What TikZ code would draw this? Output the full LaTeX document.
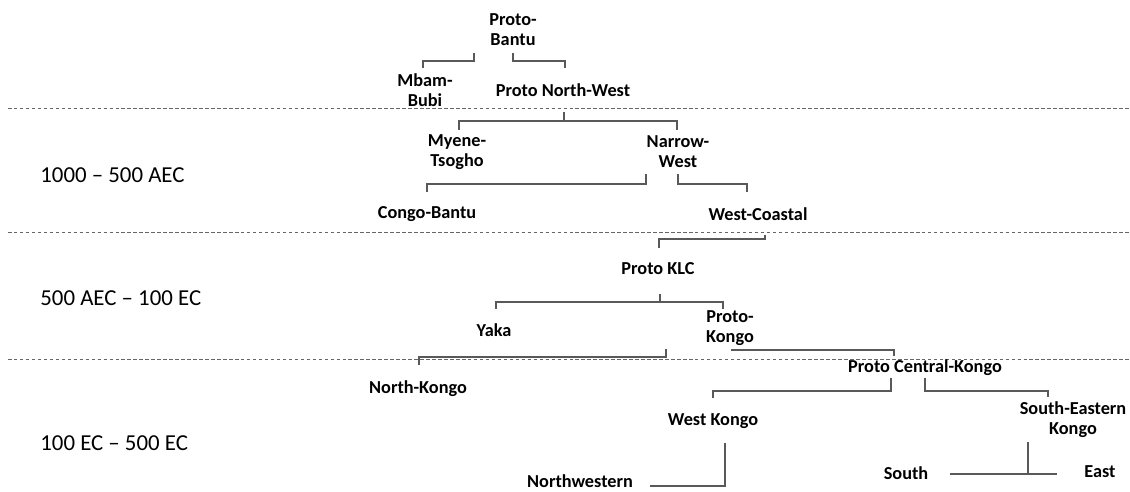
\documentclass[tikz,border=0pt]{standalone}
\usepackage{fontspec}
\setmainfont{Carlito}
\usetikzlibrary{calc}

\begin{document}
\begin{tikzpicture}[
    x=0.02cm, y=-0.02cm,
    lang/.style={font=\fontsize{10.4}{11.5}\selectfont\bfseries, align=center, inner sep=1pt},
    period/.style={font=\fontsize{13}{15}\selectfont, anchor=west, inner sep=0pt},
    link/.style={draw=black!65, line width=0.75pt},
    sep/.style={draw=black!60, line width=0.5pt, dash pattern=on 2pt off 1.4pt}
  ]
  \useasboundingbox (0,0) rectangle (1130,492);

  % time bands
  \draw[sep] (8,108) -- (1130,108);
  \draw[sep] (8,232) -- (1130,232);
  \draw[sep] (8,359) -- (1130,359);
  \node[period] (p1) at (40,175) {1000 – 500 AEC};
  \node[period] (p2) at (40,298) {500 AEC – 100 EC};
  \node[period] (p3) at (40,443) {100 EC – 500 EC};

  % languages
  \node[lang] (pb) at (513,30) {Proto-\\Bantu};
  \node[lang] (mb) at (425,90) {Mbam-\\Bubi};
  \node[lang] (pnw) at (563,90) {Proto North-West};
  \node[lang] (mt) at (457,152) {Myene-\\Tsogho};
  \node[lang] (nw) at (678,152) {Narrow-\\West};
  \node[lang] (cb) at (427,214) {Congo-Bantu};
  \node[lang] (wc) at (758,214) {West-Coastal};
  \node[lang] (klc) at (658,269) {Proto KLC};
  \node[lang] (yk) at (494,330) {Yaka};
  \node[lang] (pk) at (730,328) {Proto-\\Kongo};
  \node[lang] (nk) at (418,389) {North-Kongo};
  \node[lang] (pck) at (925,368) {Proto Central-Kongo};
  \node[lang] (wk) at (713,421) {West Kongo};
  \node[lang] (sek) at (1073,420) {South-Eastern\\Kongo};
  \node[lang] (nwn) at (580,481) {Northwestern};
  \node[lang] (s) at (906,473) {South};
  \node[lang] (e) at (1100,472) {East};

  % branches
  \draw[link] ($(pb)+(-39,23)$) -- ++(0,8) -| ($(mb)+(-2,-22)$);
  \draw[link] ($(pb)+(0,23)$) -- ++(0,8) -| ($(pnw)+(2,-22)$);
  \draw[link] ($(pnw)+(1,22)$) -- ++(0,9) -| ($(mt)+(2,-22)$);
  \draw[link] ($(pnw)+(1,22)$) -- ++(0,9) -| ($(nw)+(-1,-22)$);
  \draw[link] ($(nw)+(-32,22)$) -- ++(0,10) -| ($(cb)+(0,-22)$);
  \draw[link] ($(nw)+(0,22)$) -- ++(0,10) -| ($(wc)+(-11,-22)$);
  \draw[link] ($(wc)+(7,21)$) -- ++(0,4) -| ($(klc)+(1,-21)$);
  \draw[link] ($(klc)+(2,25)$) -- ++(0,8) -| ($(yk)+(2,-21)$);
  \draw[link] ($(klc)+(2,25)$) -- ++(0,8) -| ($(pk)+(-7,-19)$);
  \draw[link] ($(pk)+(-64,21)$) -- ++(0,8) -| ($(nk)+(1,-24)$);
  \draw[link] ($(pk)+(1,22)$) -| ($(pck)+(-31,-12)$);
  \draw[link] ($(pck)+(-34,10)$) -- ++(0,13) -| ($(wk)+(0,-23)$);
  \draw[link] ($(pck)+(0,10)$) -- ++(0,13) -| ($(sek)+(-25,-23)$);
  \draw[link] ($(wk)+(12,22)$) |- ($(nwn)+(70,5)$);
  \draw[link] ($(s)+(44,1)$) -- ($(e)+(-43,2)$);
  \draw[link, line width=1.2pt] ($(sek)+(-45,22)$) -- ++(0,32);
\end{tikzpicture}
\end{document}
